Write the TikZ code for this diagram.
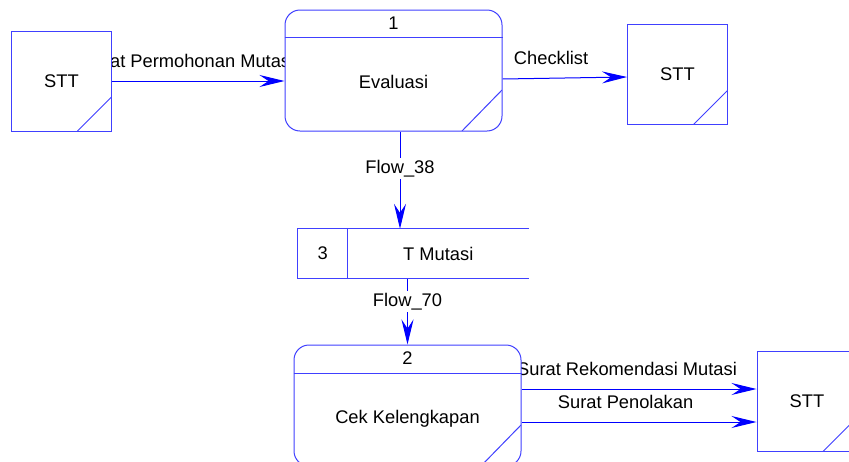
\documentclass[tikz,border=0pt]{standalone}
\usepackage{fontspec}
\setmainfont{Liberation Sans}
\usetikzlibrary{arrows.meta,calc,backgrounds}

\begin{document}
\begin{tikzpicture}[x=1pt,y=-1pt,font=\fontsize{18.3}{22}\selectfont,
  boxline/.style={draw=blue!75,line width=1pt},
  entity/.style={boxline,fill=white,minimum width=100,minimum height=100,inner sep=0pt,
    path picture={\draw[boxline] ($(path picture bounding box.south east)+(0,-34)$) -- ($(path picture bounding box.south east)+(-34,0)$);}},
  process/.style={boxline,fill=white,rounded corners=15pt,minimum height=121,inner sep=0pt,
    path picture={\draw[boxline,sharp corners] ($(path picture bounding box.south east)+(0,-41)$) -- ($(path picture bounding box.south east)+(-40,0)$);}},
  storebox/.style={minimum width=231,minimum height=49,inner sep=0pt},
  flow/.style={draw=blue,line width=1pt,-{Stealth[length=25pt,width=12pt,inset=9pt]}},
  flowlabel/.style={anchor=base,yshift=13.5pt,inner sep=0pt},
  tag/.style={anchor=base,fill=white,inner sep=2pt}]
\useasboundingbox (0,0) rectangle (849,461);
\clip (0,0) rectangle (849,461);
\node[entity] (sttA) at (61.5,81) {STT};
\node[process,minimum width=217] (evaluasi) at (393.5,70.5) {};
\node[anchor=base] (evaluasiNo) at ($(evaluasi.north)+(0,19.5)$) {1};
\node[anchor=base] (evaluasiName) at ($(evaluasi.center)+(0,18)$) {Evaluasi};
\draw[boxline] ($(evaluasi.north west)+(0,28)$) -- ($(evaluasi.north east)+(0,28)$);
\node[entity] (sttB) at (677.5,74.5) {STT};
\node[storebox] (mutasi) at (413.5,253.5) {};
\draw[boxline] (mutasi.north east) -- (mutasi.north west) -- (mutasi.south west) -- (mutasi.south east);
\draw[boxline] ($(mutasi.north west)+(50,0)$) -- ($(mutasi.south west)+(50,0)$);
\node (mutasiNo) at ($(mutasi.west)+(25,0)$) {3};
\node (mutasiName) at ($(mutasi.west)+(140.5,0)$) {T Mutasi};
\node[process,minimum width=227] (cek) at (407.5,405.5) {};
\node[anchor=base] (cekNo) at ($(cek.north)+(0,19.5)$) {2};
\node[anchor=base] (cekName) at ($(cek.center)+(0,18)$) {Cek Kelengkapan};
\draw[boxline] ($(cek.north west)+(0,29)$) -- ($(cek.north east)+(0,29)$);
\node[entity] (sttC) at (807,401.5) {STT};
\coordinate (f38) at ($(evaluasi.south)+(6.5,0)$);
\coordinate (rek) at ($(cek.east)+(0,-16.5)$);
\coordinate (tolak) at ($(cek.east)+(0,16.5)$);
\begin{scope}[on background layer]
\draw[flow] (sttA.east) -- (sttA.east -| evaluasi.west)
   node[pos=0.44,flowlabel]{Surat Permohonan Mutasi};
\draw[flow] ($(evaluasi.east)+(0,8.5)$) -- ($(sttB.west)+(0,2.5)$)
   node[pos=0.39,flowlabel]{Checklist};
\draw[flow] (f38) -- (f38 |- mutasi.north) node[pos=0.434,tag]{Flow\_38};
\draw[flow] (mutasi.south -| cek.north) -- (cek.north) node[pos=0.425,tag]{Flow\_70};
\draw[flow] (rek) -- (rek -| sttC.west) node[pos=0.449,flowlabel]{Surat Rekomendasi Mutasi};
\draw[flow] (tolak) -- (tolak -| sttC.west) node[pos=0.443,flowlabel]{Surat Penolakan};
\end{scope}
\end{tikzpicture}
\end{document}
